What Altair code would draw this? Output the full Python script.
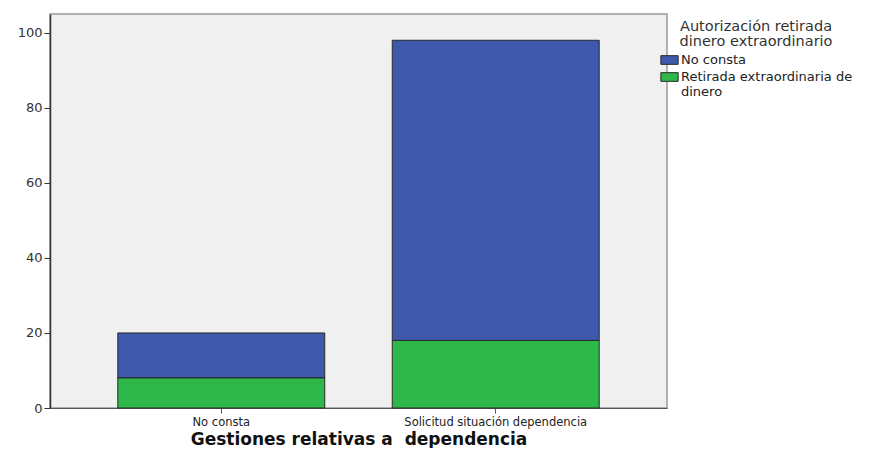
import altair as alt
import pandas as pd

categories = ["No consta", "Solicitud situación dependencia"]
series = ["No consta", "Retirada extraordinaria de dinero"]
no_consta_vals = [12, 80]
retirada_vals = [8, 18]

rows = []
for i, c in enumerate(categories):
    rows.append({"gestion": c, "autorizacion": series[0], "n": no_consta_vals[i], "order": 1})
    rows.append({"gestion": c, "autorizacion": series[1], "n": retirada_vals[i], "order": 0})
df = pd.DataFrame(rows)

font = "DejaVu Sans"

chart = alt.Chart(df).mark_bar(stroke="#2a2a2a", strokeWidth=1).encode(
    x=alt.X("gestion:N", sort=categories,
            scale=alt.Scale(paddingInner=0.246, paddingOuter=0.247),
            axis=alt.Axis(title="Gestiones relativas a \u00a0dependencia", labelAngle=0,
                          labelFont=font, labelFontSize=11.5, labelColor="#222",
                          labelLimit=0,
                          titleFont=font, titleFontSize=17, titleFontWeight="bold",
                          titleColor="#111", titlePadding=4,
                          domainColor="#555", tickColor="#555", tickSize=5,
                          labelPadding=3)),
    y=alt.Y("n:Q", stack="zero", scale=alt.Scale(domain=[0, 105], nice=False),
            axis=alt.Axis(title=None, values=[0, 20, 40, 60, 80, 100], grid=False,
                          labelFont=font, labelFontSize=13, labelColor="#333",
                          domainColor="#333", domainWidth=1.5, tickColor="#333",
                          tickSize=6, labelPadding=2)),
    color=alt.Color("autorizacion:N", sort=series,
                    scale=alt.Scale(domain=series, range=["#3e58ac", "#2eb84a"]),
                    legend=alt.Legend(
                        title=["Autorización retirada", "dinero extraordinario"],
                        orient="none", legendX=610, legendY=6,
                        titleFont=font, titleFontSize=14.5, titleFontWeight="normal",
                        titleColor="#333", titleAnchor="middle", titleAlign="center",
                        titleLineHeight=15, titlePadding=1,
                        labelFont=font, labelFontSize=13, labelColor="#222",
                        labelExpr="datum.label == 'Retirada extraordinaria de dinero' ? ['Retirada extraordinaria de', 'dinero'] : datum.label",
                        labelOffset=2, rowPadding=0,
                        symbolType="M-1,-0.5H1V0.5H-1Z", symbolSize=300,
                        symbolStrokeColor="#2a2a2a", symbolStrokeWidth=1,
                        symbolOpacity=1, labelLimit=300)),
    order=alt.Order("order:Q"),
).properties(
    width=617, height=394,
    padding={"left": 42, "top": 6, "right": 197, "bottom": 40},
    autosize=alt.AutoSizeParams(type="none"),
).configure_view(
    fill="#f0f0f0", stroke="#999", strokeWidth=1.5
)

chart.save("out.html", embed_options={"renderer": "svg", "actions": False})
